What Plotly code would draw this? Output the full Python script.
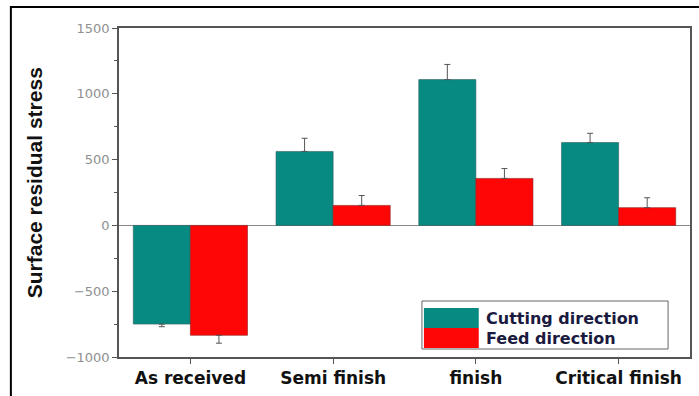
import plotly.graph_objects as go

categories = ["As received", "Semi finish", "finish", "Critical finish"]
cutting = [-750, 562, 1108, 630]
cutting_err = [20, 100, 115, 70]
feed = [-835, 152, 357, 135]
feed_err = [60, 75, 75, 75]

teal = "#078a82"
red = "#ff0606"
axis_col = "#555555"


def outward(values, errs):
    """Split errors so each bar shows its whisker on the outer side only."""
    up = [e if v >= 0 else 0 for v, e in zip(values, errs)]
    down = [e if v < 0 else 0 for v, e in zip(values, errs)]
    return up, down


c_up, c_down = outward(cutting, cutting_err)
f_up, f_down = outward(feed, feed_err)

fig = go.Figure()
fig.add_trace(go.Bar(
    x=categories, y=cutting, name="Cutting direction",
    marker=dict(color=teal, line=dict(color="#2f5f5c", width=0.6)),
    error_y=dict(type="data", symmetric=False, array=c_up, arrayminus=c_down,
                 color="#555555", thickness=1, width=3),
))
fig.add_trace(go.Bar(
    x=categories, y=feed, name="Feed direction",
    marker=dict(color=red, line=dict(color="#8a2020", width=0.6)),
    error_y=dict(type="data", symmetric=False, array=f_up, arrayminus=f_down,
                 color="#555555", thickness=1, width=3),
))

fig.update_layout(
    width=699, height=396,
    margin=dict(l=119, r=7, t=28, b=39),
    paper_bgcolor="white", plot_bgcolor="white",
    barmode="group", bargap=0.2, bargroupgap=0,
    showlegend=False,
    font=dict(family="Liberation Sans, Arial, sans-serif"),
)
fig.update_xaxes(
    range=[-0.5, 3.5], showgrid=False, zeroline=False,
    showline=True, linecolor=axis_col, linewidth=1.5, mirror=True,
    ticks="outside", ticklen=5, tickcolor=axis_col,
    tickfont=dict(family="DejaVu Sans", size=17, color="#111111", weight="bold"),
)
fig.update_yaxes(
    range=[-1000, 1500], dtick=500, showgrid=False,
    zeroline=True, zerolinecolor="#888888", zerolinewidth=1,
    showline=True, linecolor=axis_col, linewidth=1.5, mirror=True,
    ticks="outside", ticklen=5, tickcolor=axis_col,
    minor=dict(dtick=250, ticks="outside", ticklen=3, tickcolor=axis_col),
    tickfont=dict(family="DejaVu Sans", size=13, color="#8f8f8f"),
)

# Legend drawn as a framed box with large colour keys
x0, x1 = (423 - 119) / 573, (670 - 119) / 573


def px(pix):
    return (pix - 119) / 573


def py(pix):
    return (357 - pix) / 329


shapes = [
    dict(type="rect", xref="paper", yref="paper", x0=x0, x1=x1, y0=py(349), y1=py(301),
         line=dict(color="#666666", width=1), fillcolor="white", layer="above"),
    dict(type="rect", xref="paper", yref="paper", x0=x0 + 2 / 573, x1=px(480),
         y0=py(328), y1=py(308), line=dict(width=0), fillcolor=teal, layer="above"),
    dict(type="rect", xref="paper", yref="paper", x0=x0 + 2 / 573, x1=px(480),
         y0=py(348), y1=py(328), line=dict(width=0), fillcolor=red, layer="above"),
    # outer frame of the figure
    dict(type="rect", xref="paper", yref="paper", x0=px(10.5), x1=px(705),
         y0=py(410), y1=py(7), line=dict(color="black", width=2), layer="above"),
]
annotations = [
    dict(xref="paper", yref="paper", x=px(485), y=py(318), text="Cutting direction",
         showarrow=False, xanchor="left", yanchor="middle",
         font=dict(family="DejaVu Sans", size=16, color="#1a1a40", weight="bold")),
    dict(xref="paper", yref="paper", x=px(485), y=py(338), text="Feed direction",
         showarrow=False, xanchor="left", yanchor="middle",
         font=dict(family="DejaVu Sans", size=16, color="#1a1a40", weight="bold")),
    # y-axis title
    dict(xref="paper", yref="paper", x=px(34), y=py(183), text="Surface residual stress",
         textangle=-90, showarrow=False, xanchor="center", yanchor="middle",
         font=dict(family="Liberation Sans", size=21, color="#111111", weight="bold")),
]
fig.update_layout(shapes=shapes, annotations=annotations)

fig.write_html("out.html")
